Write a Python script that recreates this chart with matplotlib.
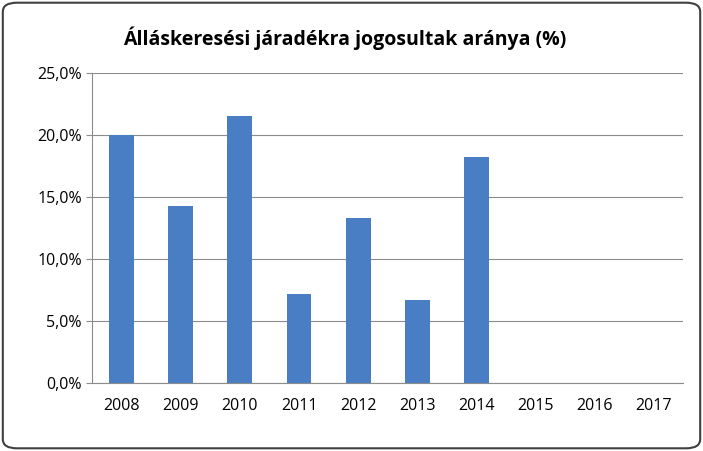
import matplotlib
matplotlib.use("Agg")
import matplotlib.pyplot as plt
from matplotlib.patches import FancyBboxPatch

years = ["2008","2009","2010","2011","2012","2013","2014","2015","2016","2017"]
values = [20.0, 14.3, 21.5, 7.2, 13.3, 6.7, 18.2, 0, 0, 0]
yticks = [0, 5, 10, 15, 20, 25]
ylabels = ["0,0%", "5,0%", "10,0%", "15,0%", "20,0%", "25,0%"]

plt.rcParams['font.family'] = ['Open Sans', 'DejaVu Sans']
fig = plt.figure(figsize=(7.03, 4.51), dpi=100)
fig.patches.append(FancyBboxPatch((0.004, 0.006), 0.992, 0.988, boxstyle="round,pad=0,rounding_size=0.02",
                                  transform=fig.transFigure, fill=False, edgecolor="#404040", linewidth=1.5))
ax = fig.add_axes([0.131, 0.151, 0.841, 0.687])
ax.bar(range(len(years)), values, width=0.42, color="#4A7EC4")
ax.set_xlim(-0.5, len(years) - 0.5)
ax.set_ylim(0, 25)
ax.set_yticks(yticks)
ax.set_yticklabels(ylabels)
ax.set_xticks(range(len(years)))
ax.set_xticklabels(years)
ax.grid(axis="y", color="#8c8c8c", linewidth=0.8)
ax.set_axisbelow(True)
for s in ["top", "right"]:
    ax.spines[s].set_visible(False)
ax.spines["left"].set_color("#8c8c8c")
ax.spines["bottom"].set_color("#8c8c8c")
ax.tick_params(axis="y", length=4, colors="#8c8c8c", labelcolor="black", labelsize=11.5)
ax.tick_params(axis="x", length=0, labelsize=11.5, pad=11)
fig.text(0.49, 0.915, "Álláskeresési járadékra jogosultak aránya (%)", ha="center", va="center",
         fontsize=14, fontweight="bold")
fig.savefig("out.png", dpi=100)
